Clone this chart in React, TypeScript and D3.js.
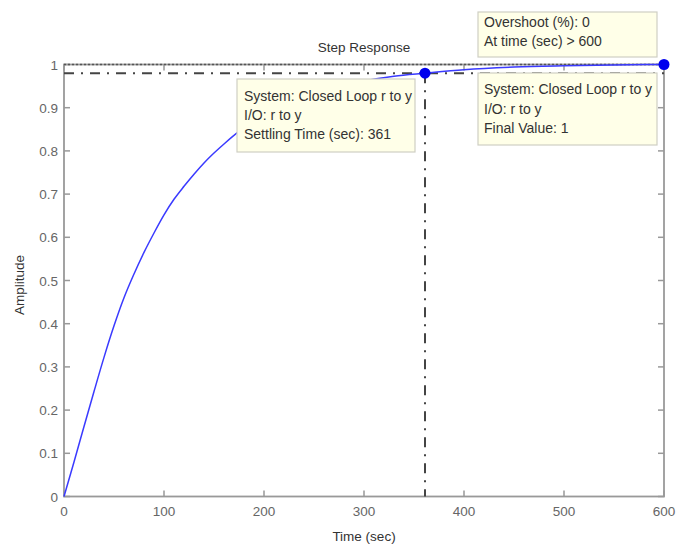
import React from "react";
import * as d3 from "d3";

const timeSec = [0, 10, 20, 30, 40, 50, 60, 70, 80, 90, 100, 110, 120, 130, 140, 150, 160, 175, 190, 200, 225, 250, 275, 300, 330, 361, 400, 450, 500, 550, 600];
const amplitude = [0, 0.08, 0.162, 0.243, 0.322, 0.395, 0.46, 0.515, 0.565, 0.61, 0.652, 0.688, 0.718, 0.746, 0.772, 0.795, 0.816, 0.845, 0.868, 0.882, 0.91, 0.932, 0.949, 0.962, 0.973, 0.98, 0.988, 0.994, 0.997, 0.999, 1.0];
const xTicks = [0, 100, 200, 300, 400, 500, 600];
const yTicks = [0, 0.1, 0.2, 0.3, 0.4, 0.5, 0.6, 0.7, 0.8, 0.9, 1];
const settlingTime = 361;
const settlingValue = 0.98;
const finalValue = 1;
const finalTime = 600;
const title = "Step Response";
const xLabel = "Time (sec)";
const yLabel = "Amplitude";
const tipSettling = ["System: Closed Loop r to y", "I/O: r to y", "Settling Time (sec): 361"];
const tipFinal = ["System: Closed Loop r to y", "I/O: r to y", "Final Value: 1"];
const tipOvershoot = ["Overshoot (%): 0", "At time (sec) > 600"];

const W = 676;
const H = 547;
const L = 64, R = 664, T = 64.5, B = 496.5;

export default function App() {
  const x = d3.scaleLinear().domain([0, 600]).range([L, R]);
  const y = d3.scaleLinear().domain([0, 1]).range([B, T]);
  const pts = timeSec.map((t, i) => [t, amplitude[i]] as [number, number]);
  const line = d3.line<[number, number]>().x(d => x(d[0])).y(d => y(d[1])).curve(d3.curveMonotoneX);
  const font = "'Liberation Sans', Arial, sans-serif";
  const axisColor = "#999";
  const labelColor = "#666";
  const textColor = "#333";
  const tick = 6;

  const box = (x0: number, y0: number, w: number, h: number, lines: string[], tx: number, ty0: number, dy: number) => (
    <g>
      <rect x={x0} y={y0} width={w} height={h} fill="#ffffe8" stroke="#cfcfc4" strokeWidth={1.2} />
      {lines.map((s, i) => (
        <text key={i} x={tx} y={ty0 + i * dy} fontSize={14} fill={textColor} fontFamily={font}>{s}</text>
      ))}
    </g>
  );

  return (
    <div style={{ position: "absolute", left: 0, top: 0 }}>
      <svg width={W} height={H} style={{ display: "block", background: "#fff" }}>
        <rect x={L} y={T} width={R - L} height={B - T} fill="none" stroke={axisColor} strokeWidth={1.8} />
        {xTicks.map(t => (
          <g key={"x" + t}>
            <line x1={x(t)} x2={x(t)} y1={B} y2={B - tick} stroke={axisColor} strokeWidth={1.5} />
            <line x1={x(t)} x2={x(t)} y1={T} y2={T + tick} stroke={axisColor} strokeWidth={1.5} />
            <text x={x(t)} y={B + 19} textAnchor="middle" fontSize={13.5} fill={labelColor} fontFamily={font}>{t}</text>
          </g>
        ))}
        {yTicks.map(t => (
          <g key={"y" + t}>
            <line x1={L} x2={L + tick} y1={y(t)} y2={y(t)} stroke={axisColor} strokeWidth={1.5} />
            <line x1={R} x2={R - tick} y1={y(t)} y2={y(t)} stroke={axisColor} strokeWidth={1.5} />
            <text x={L - 6} y={y(t) + 5} textAnchor="end" fontSize={13.5} fill={labelColor} fontFamily={font}>{t}</text>
          </g>
        ))}
        <line x1={L} x2={R} y1={y(finalValue)} y2={y(finalValue)} stroke="#555" strokeWidth={1.5} strokeDasharray="2,2" />
        <line x1={L} x2={R} y1={y(settlingValue)} y2={y(settlingValue)} stroke="#444" strokeWidth={2} strokeDasharray="10,7,2,7" />
        <line x1={x(settlingTime)} x2={x(settlingTime)} y1={y(settlingValue)} y2={B} stroke="#444" strokeWidth={2} strokeDasharray="10,7,2,7" />
        <path d={line(pts) || ""} fill="none" stroke="#3a3aff" strokeWidth={1.5} />
        <circle cx={x(settlingTime)} cy={y(settlingValue)} r={5.5} fill="#0000ee" />
        <circle cx={x(finalTime)} cy={y(finalValue)} r={5.5} fill="#0000ee" />
        {box(237, 79, 178, 73, tipSettling, 244, 101, 19)}
        {box(478, 73, 179, 72, tipFinal, 484, 94, 19.5)}
        {box(478, 12, 179, 45, tipOvershoot, 484, 27, 19)}
        <text x={(L + R) / 2} y={52} textAnchor="middle" fontSize={13.5} fill={textColor} fontFamily={font}>{title}</text>
        <text x={(L + R) / 2} y={541} textAnchor="middle" fontSize={13.5} fill={textColor} fontFamily={font}>{xLabel}</text>
        <text transform={`translate(24,285) rotate(-90)`} textAnchor="middle" fontSize={13.5} fill={textColor} fontFamily={font}>{yLabel}</text>
      </svg>
    </div>
  );
}
